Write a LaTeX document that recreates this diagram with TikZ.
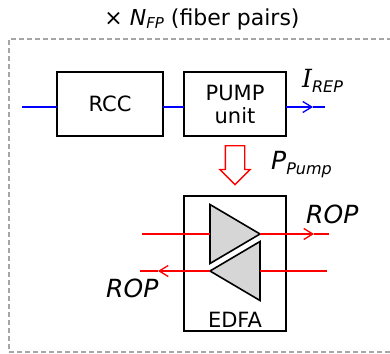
\documentclass[tikz,border=0pt]{standalone}
\usepackage{fontspec}
\setmainfont{DejaVu Sans}
\newfontfamily\slabfont{DejaVu Serif}
\usetikzlibrary{arrows.meta,positioning,shapes.geometric,shapes.arrows}
\newcommand{\lowtext}[2]{\raisebox{#1}{\fontsize{16}{18}\selectfont\itshape #2}}

\begin{document}
\begin{tikzpicture}[x=1pt, y=-1pt, >={Straight Barb[length=9pt,width=11pt,line width=1.3pt]}, font=\fontsize{21}{24}\selectfont]

  % Styles
  \tikzset{
    block/.style={draw, rectangle, line width=1.8pt, outer sep=0pt, align=center, minimum height=64pt},
    amp/.style={draw, isosceles triangle, isosceles triangle stretches, line width=1.6pt, fill=black!16, inner sep=0pt, outer sep=0pt, minimum height=50pt, minimum width=59pt},
    pumpout/.style={draw=red, fill=white, line width=1.3pt, single arrow, shape border rotate=270, inner sep=9pt, minimum height=39pt, single arrow head extend=5.5pt, single arrow head indent=0pt},
    elec/.style={draw=blue, line width=1.8pt},
    optic/.style={draw=red, line width=2.8pt},
    opticthin/.style={draw=red, line width=1.7pt},
    big/.style={font=\fontsize{25}{28}\selectfont\itshape, inner sep=0pt, anchor=base west}
  }
  \useasboundingbox (0,0) rectangle (390,353);
  \clip (0,0) rectangle (390,353);

  % Dashed frame, right side cut off by the page, and title
  \node[draw=black!35, dash pattern=on 5pt off 3pt, line width=1.2pt, rectangle, minimum width=395pt, minimum height=313pt, outer sep=0pt] (frame) at (206.5,195.5) {};
  \node[font=\fontsize{22}{24}\selectfont] (title) at (202,19) {× \textit{N}{\fontsize{15}{16}\selectfont\raisebox{-3pt}{\textit{FP}}} (fiber pairs)};

  % Blocks
  \node[block, minimum width=106pt] (rcc) at (110,104) {RCC};
  \node[block, minimum width=102pt, right=21pt of rcc] (pump) {PUMP\\[-1pt]unit};
  \node[pumpout, below=9pt of pump] (pumparrow) {};
  \node[block, minimum width=102pt, minimum height=135pt, below=60pt of pump] (edfa) {};
  \node[anchor=south, inner sep=3pt] (edfalabel) at (edfa.south) {EDFA};

  % Blue line through the blocks
  \coordinate (in) at (22,107);
  \coordinate (tipblue) at (313,107);
  \coordinate (outblue) at (325,107);
  \draw[elec] (in) -- (rcc.west |- in);
  \draw[elec] (rcc.east |- in) -- (pump.west |- in);
  \draw[elec, ->] (pump.east |- in) -- (tipblue);
  \draw[elec] (tipblue) -- (outblue);
  \node[big] (irep) at (302,87) {{\slabfont\itshape I}\lowtext{-5pt}{REP}};

  % Amplifiers
  \node[amp, anchor=apex] (ampup) at (260,234) {};
  \node[amp, anchor=apex, shape border rotate=180] (ampdown) at (210,271) {};

  % Upper fiber
  \coordinate (upin) at (142,234);
  \coordinate (uptip) at (314,234);
  \coordinate (upout) at (329,234);
  \draw[optic] (upin) -- (ampup.lower side);
  \draw[optic, ->] (ampup.apex) -- (uptip);
  \draw[optic] (uptip) -- (upout);

  % Lower fiber
  \coordinate (downin) at (327,271);
  \coordinate (downtip) at (158,271);
  \coordinate (downout) at (140,271);
  \draw[opticthin] (downin) -- (ampdown.lower side);
  \draw[opticthin, ->] (ampdown.apex) -- (downtip);
  \draw[opticthin] (downtip) -- (downout);

  % Labels
  \node[big] (ppump) at (271,169) {P\lowtext{-5pt}{Pump}};
  \node[big] (ropup) at (306,223) {ROP};
  \node[big] (ropdown) at (106,297) {ROP};

\end{tikzpicture}
\end{document}
